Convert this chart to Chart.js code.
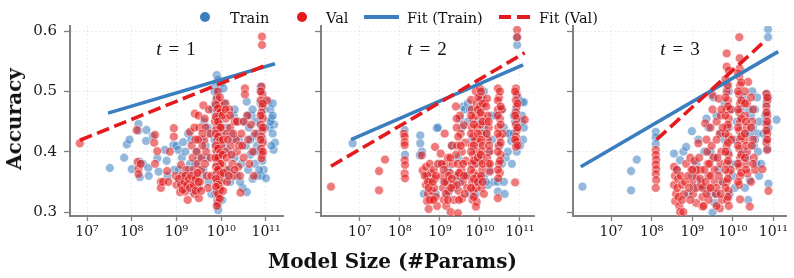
<!DOCTYPE html>
<html><head><meta charset="utf-8">
<script src="https://cdn.jsdelivr.net/npm/chart.js@4.4.1/dist/chart.umd.min.js"></script>
<style>
html,body{margin:0;padding:0;background:#fff;}
#wrap{position:relative;width:794px;height:278px;overflow:hidden;font-family:'DejaVu Serif',serif;color:#111;}
canvas{position:absolute;top:0;}
.lg{position:absolute;top:11px;font-size:14.5px;line-height:1;white-space:nowrap;}
.dot{position:absolute;width:10px;height:10px;border-radius:50%;top:12px;}
.ln{position:absolute;height:4px;top:15px;}
.tl{position:absolute;top:39px;width:100px;text-align:center;font-family:'Liberation Serif',serif;font-size:19px;line-height:1;white-space:nowrap;}
.tl span{margin:0 7px;}
.xl{position:absolute;top:251px;left:392.5px;transform:translateX(-50%);font-weight:bold;font-size:20px;line-height:1;white-space:nowrap;}
.yl{position:absolute;left:13.5px;top:119px;transform:translate(-50%,-50%) rotate(-90deg);font-weight:bold;font-size:20px;line-height:1;white-space:nowrap;}
</style></head>
<body>
<div id="wrap">
<canvas id="c1" width="290" height="250" style="left:0px"></canvas>
<canvas id="c2" width="244" height="250" style="left:296px"></canvas>
<canvas id="c3" width="246" height="250" style="left:548px"></canvas>

<div class="dot" style="left:200px;background:#3a7ebf"></div><div class="lg" style="left:230px">Train</div>
<div class="dot" style="left:297px;background:#e41a1c"></div><div class="lg" style="left:326px">Val</div>
<div class="ln" style="left:364px;width:35px;background:#3a7ebf"></div><div class="lg" style="left:407px">Fit (Train)</div>
<div class="ln" style="left:499px;width:12px;background:#e41a1c"></div><div class="ln" style="left:517px;width:13px;background:#e41a1c"></div><div class="lg" style="left:539px">Fit (Val)</div>

<div class="tl" style="left:126px"><i>t</i><span>=</span>1</div>
<div class="tl" style="left:377px"><i>t</i><span>=</span>2</div>
<div class="tl" style="left:630px"><i>t</i><span>=</span>3</div>

<div class="xl">Model Size (#Params)</div>
<div class="yl">Accuracy</div>
</div>
<script>
// Each point: [log10(#params), accuracy]
const xTickValues = [1e7, 1e8, 1e9, 1e10, 1e11];
const xTickLabels = ['10\u2077', '10\u2078', '10\u2079', '10\u00B9\u2070', '10\u00B9\u00B9'];
const yTickValues = [0.3, 0.4, 0.5, 0.6];

const t1Train = [[7.51,0.373],[7.83,0.390],[7.89,0.412],[7.95,0.420],[8.0,0.371],[8.15,0.446],[8.15,0.435],[8.18,0.383],[8.18,0.358],[8.25,0.380],[8.32,0.418],[8.33,0.436],[8.37,0.373],[8.38,0.360],[8.47,0.426],[8.57,0.389],[8.6,0.367],[8.74,0.403],[8.78,0.385],[8.8,0.360],[8.93,0.411],[8.95,0.370],
[9.0,0.41],[9.04,0.403],[9.08,0.35],[9.15,0.416],[9.18,0.36],[9.22,0.34],[9.26,0.43],[9.3,0.38],[9.35,0.335],[9.4,0.36],[9.45,0.40],[9.5,0.34],[9.55,0.42],[9.6,0.37],[9.62,0.45],[9.68,0.39],[9.72,0.35],[9.75,0.43],[9.78,0.33],[9.8,0.47],
[9.9,0.527],[9.93,0.52],[9.88,0.51],[9.95,0.50],[9.9,0.49],[9.93,0.48],[9.88,0.46],[9.96,0.45],[9.9,0.44],[9.94,0.42],[9.87,0.41],[9.92,0.40],[9.97,0.39],[9.9,0.38],[9.94,0.37],[9.88,0.36],[9.95,0.35],[9.9,0.34],[9.93,0.33],[9.91,0.32],[9.93,0.311],[9.93,0.303],
[10.02,0.515],[10.05,0.505],[10.1,0.48],[10.12,0.44],[10.15,0.40],[10.18,0.37],[10.2,0.35],[10.22,0.43],[10.28,0.46],[10.3,0.39],[10.35,0.36],[10.4,0.42],[10.45,0.38],[10.48,0.34],
[10.52,0.45],[10.55,0.41],[10.57,0.483],[10.57,0.333],[10.6,0.37],[10.62,0.44],[10.65,0.395],[10.68,0.46],[10.7,0.355],[10.72,0.425],[10.75,0.38],[10.78,0.45],[10.8,0.36],[10.8,0.41],
[10.88,0.508],[10.9,0.50],[10.88,0.48],[10.92,0.46],[10.9,0.44],[10.93,0.42],[10.88,0.40],[10.92,0.385],[10.95,0.37],[10.9,0.36],[11.0,0.356],[10.95,0.47],
[11.05,0.483],[11.1,0.47],[11.15,0.48],[11.12,0.455],[11.18,0.445],[11.08,0.44],[11.15,0.43],[11.2,0.415],[11.17,0.403],
[9.05,0.37],[9.12,0.39],[9.2,0.4],[9.28,0.37],[9.33,0.42],[9.42,0.38],[9.5,0.39],[9.58,0.36],[9.65,0.41],[9.7,0.44],[9.85,0.5],[9.86,0.48],[9.85,0.42],[9.86,0.33],[9.98,0.47],[10.0,0.43],[10.0,0.37],[10.02,0.32],[10.08,0.41],[10.12,0.36],[10.25,0.42],[10.3,0.47],[10.38,0.45],[10.42,0.35],[10.6,0.46],[10.65,0.42],[10.7,0.47],[10.75,0.4],[10.82,0.43],[10.85,0.37],[10.98,0.44],[11.1,0.45],[11.15,0.46],[11.12,0.41]];

const t1Val = [[6.84,0.414],[8.11,0.436],[8.13,0.383],[8.15,0.372],[8.15,0.363],[8.2,0.38],[8.5,0.415],[8.52,0.428],[8.52,0.38],[8.57,0.401],[8.65,0.35],[8.65,0.34],[8.7,0.35],[8.79,0.368],[8.82,0.35],[8.85,0.40],[8.94,0.439],[8.94,0.425],[8.98,0.36],[9.0,0.345],
[9.08,0.333],[9.1,0.378],[9.12,0.36],[9.15,0.35],[9.19,0.334],[9.22,0.37],[9.25,0.32],[9.3,0.433],[9.34,0.41],[9.36,0.39],[9.38,0.37],[9.35,0.35],[9.4,0.33],[9.41,0.463],[9.42,0.42],[9.45,0.40],[9.47,0.38],[9.45,0.36],[9.48,0.34],[9.49,0.46],[9.5,0.323],[9.52,0.44],[9.53,0.35],[9.56,0.39],[9.55,0.37],
[9.6,0.477],[9.63,0.455],[9.65,0.44],[9.62,0.42],[9.66,0.40],[9.64,0.38],[9.68,0.36],[9.7,0.34],[9.72,0.47],[9.75,0.43],[9.76,0.39],[9.78,0.36],
[9.9,0.488],[9.95,0.48],[9.9,0.47],[9.96,0.462],[9.91,0.455],[9.95,0.445],[9.89,0.437],[9.96,0.43],[9.91,0.42],[9.95,0.41],[9.89,0.402],[9.96,0.395],[9.92,0.385],[9.95,0.375],[9.9,0.367],[9.96,0.358],[9.91,0.35],[9.95,0.34],[9.9,0.332],[9.94,0.324],[9.92,0.315],[10.0,0.47],[10.01,0.44],[10.0,0.41],[10.02,0.38],[10.0,0.35],[9.86,0.45],[9.86,0.39],
[10.08,0.48],[10.1,0.455],[10.12,0.43],[10.1,0.40],[10.15,0.37],[10.13,0.35],[10.18,0.47],[10.2,0.44],[10.22,0.41],[10.25,0.38],[10.28,0.36],[10.3,0.45],[10.33,0.42],[10.35,0.40],[10.38,0.375],[10.43,0.332],[10.45,0.43],[10.5,0.39],[10.53,0.505],[10.53,0.495],
[10.58,0.46],[10.6,0.42],[10.63,0.38],[10.66,0.445],[10.7,0.40],[10.73,0.36],[10.76,0.43],
[10.9,0.508],[10.92,0.495],[10.88,0.485],[10.92,0.475],[10.9,0.465],[10.93,0.455],[10.88,0.445],[10.92,0.435],[10.9,0.425],[10.93,0.415],[10.89,0.405],[10.92,0.395],[10.9,0.389],[10.91,0.591],[10.91,0.577],[11.02,0.485],
[9.88,0.478],[9.93,0.472],[9.98,0.465],[9.88,0.458],[9.93,0.45],[9.98,0.44],[9.88,0.43],[9.93,0.425],[9.98,0.418],[9.88,0.41],[9.93,0.405],[9.98,0.398],[9.88,0.39],[9.93,0.39],[9.98,0.38],[9.88,0.375],[9.93,0.37],[9.98,0.362],[9.88,0.355],[9.93,0.345],[9.98,0.338],[9.88,0.342],[9.93,0.33],[9.97,0.322],[9.9,0.31],[9.92,0.5],[9.97,0.49],[10.03,0.46],[10.04,0.42],[10.03,0.395],[10.05,0.365],[10.04,0.335],
[9.05,0.355],[9.1,0.345],[9.14,0.337],[9.18,0.35],[9.2,0.36],[9.24,0.345],[9.28,0.355],[9.3,0.34],[9.33,0.36],[9.38,0.345],[9.43,0.355],[9.43,0.335],[9.47,0.365],[9.5,0.35],[9.55,0.335],[9.58,0.41],[9.58,0.43],[9.48,0.42],[9.4,0.44],
[10.1,0.47],[10.12,0.39],[10.15,0.42],[10.17,0.36],[10.2,0.46],[10.23,0.395],[10.27,0.43],[10.3,0.37],[10.35,0.45],[10.4,0.41],[10.42,0.36],[10.47,0.41],[10.5,0.45],
[10.88,0.5],[10.93,0.48],[10.88,0.46],[10.93,0.44],[10.88,0.42],[10.93,0.40]];

const t1FitTrain = [[7.47,0.464],[11.2,0.546]];
const t1FitVal = [[6.84,0.419],[11.05,0.545]];

const t2Train = [[6.82,0.414],[8.12,0.436],[8.13,0.395],[8.51,0.427],[8.51,0.414],[8.55,0.40],[8.5,0.394],[8.92,0.439],[8.95,0.44],[8.8,0.36],[8.9,0.33],[9.0,0.38],[9.1,0.35],[9.2,0.37],[9.3,0.41],[9.35,0.34],[9.45,0.39],[9.5,0.455],[9.58,0.475],[9.55,0.44],[9.62,0.47],[9.7,0.48],[9.65,0.36],[9.75,0.47],[9.8,0.42],[9.85,0.38],[9.9,0.35],[9.95,0.45],[10.0,0.39],[10.05,0.49],[10.1,0.50],[10.1,0.36],[10.15,0.43],[10.2,0.345],[10.22,0.40],[10.25,0.37],[10.3,0.46],[10.35,0.35],[10.45,0.334],[10.45,0.35],[10.5,0.41],[10.55,0.47],[10.6,0.44],[10.62,0.33],[10.65,0.39],[10.72,0.43],[10.74,0.43],[10.78,0.418],[10.85,0.46],[10.88,0.45],[10.92,0.40],[10.9,0.413],[10.95,0.44],[10.93,0.577],[10.93,0.589],[11.06,0.483],[11.1,0.482],[11.05,0.45],[11.08,0.42],[11.0,0.41],
[9.2,0.33],[9.4,0.36],[9.5,0.35],[9.7,0.45],[9.75,0.33],[9.9,0.33],[10.0,0.47],[10.1,0.44],[10.15,0.35],[10.3,0.42],[10.4,0.46],[10.55,0.38],[10.6,0.35],[10.7,0.40],[10.8,0.38],[10.85,0.43],[10.9,0.47],[10.95,0.49],[11.05,0.46],[11.1,0.44],[8.6,0.33],[8.7,0.36]];

const t2Val = [[6.28,0.342],[7.48,0.368],[7.48,0.336],[7.63,0.387],
[8.1,0.43],[8.12,0.425],[8.12,0.416],[8.12,0.411],[8.12,0.386],[8.13,0.378],[8.12,0.364],[8.13,0.356],
[8.55,0.394],[8.57,0.369],[8.88,0.408],
[8.65,0.375],[8.68,0.36],[8.65,0.345],[8.7,0.33],[8.68,0.318],[8.72,0.305],[8.75,0.38],[8.78,0.365],[8.75,0.35],[8.8,0.335],[8.78,0.32],[8.85,0.37],[8.88,0.355],[8.86,0.34],[8.9,0.325],[8.93,0.31],[8.95,0.38],
[9.02,0.397],[9.05,0.36],[9.08,0.34],[9.1,0.32],[9.12,0.43],[9.15,0.38],[9.18,0.35],[9.16,0.31],[9.2,0.39],[9.25,0.365],[9.22,0.335],[9.27,0.30],[9.3,0.41],[9.32,0.38],[9.33,0.345],[9.35,0.32],
[9.4,0.475],[9.42,0.44],[9.43,0.41],[9.45,0.38],[9.44,0.36],[9.47,0.335],[9.45,0.298],[9.5,0.46],[9.52,0.43],[9.55,0.40],[9.54,0.37],[9.57,0.35],[9.55,0.322],[9.6,0.444],[9.63,0.415],[9.65,0.385],[9.67,0.36],[9.68,0.34],
[9.78,0.486],[9.8,0.47],[9.82,0.455],[9.8,0.44],[9.84,0.425],[9.8,0.41],[9.83,0.395],[9.8,0.38],[9.85,0.365],[9.81,0.35],[9.84,0.335],[9.82,0.32],[9.9,0.50],[9.92,0.48],[9.9,0.46],[9.93,0.44],[9.88,0.42],[9.92,0.40],[9.9,0.38],[9.93,0.36],[9.9,0.34],[9.92,0.317],[9.9,0.309],
[10.0,0.505],[10.03,0.49],[10.0,0.475],[10.05,0.46],[10.01,0.445],[10.04,0.43],[10.0,0.415],[10.05,0.40],[10.02,0.385],[10.06,0.37],[10.0,0.355],[10.04,0.34],[10.1,0.33],[10.12,0.48],[10.15,0.45],
[10.18,0.488],[10.2,0.46],[10.22,0.44],[10.2,0.42],[10.24,0.40],[10.21,0.38],[10.25,0.367],
[10.45,0.505],[10.48,0.49],[10.45,0.47],[10.5,0.455],[10.46,0.44],[10.5,0.425],[10.47,0.41],[10.52,0.395],[10.48,0.38],[10.5,0.365],[10.46,0.356],[10.45,0.323],[10.55,0.47],[10.57,0.43],
[10.9,0.505],[10.92,0.495],[10.9,0.485],[10.92,0.475],[10.9,0.465],[10.93,0.455],[10.9,0.445],[10.92,0.435],[10.9,0.425],[10.92,0.417],[10.9,0.408],[10.88,0.349],[10.93,0.602],[10.93,0.59],[11.12,0.453],
[9.78,0.46],[9.85,0.445],[9.78,0.43],[9.85,0.41],[9.78,0.40],[9.85,0.385],[9.78,0.37],[9.85,0.355],[9.78,0.34],[9.85,0.325],[9.95,0.47],[9.95,0.43],[9.95,0.39],[9.95,0.35],[9.96,0.49],
[10.03,0.5],[10.07,0.48],[10.02,0.465],[10.07,0.45],[10.03,0.42],[10.07,0.41],[10.02,0.395],[10.07,0.38],[10.03,0.36],[10.07,0.35],
[10.5,0.5],[10.45,0.485],[10.52,0.475],[10.45,0.46],[10.52,0.445],[10.45,0.43],[10.52,0.415],[10.45,0.40],[10.5,0.385],[10.45,0.37],
[9.42,0.455],[9.46,0.425],[9.4,0.395],[9.48,0.365],[9.42,0.345],[9.48,0.32],[9.52,0.41],[9.58,0.38],[9.6,0.36],[9.62,0.33],
[9.05,0.38],[9.1,0.37],[9.12,0.35],[9.15,0.33],[9.2,0.32],[9.22,0.36],[9.28,0.34],[9.3,0.355],[9.26,0.39],
[8.62,0.36],[8.7,0.35],[8.72,0.34],[8.74,0.32],[8.82,0.35],[8.84,0.32],[8.9,0.36],
[10.16,0.475],[10.22,0.45],[10.17,0.43],[10.23,0.41],[10.18,0.39],[10.25,0.38],
[10.88,0.5],[10.94,0.48],[10.88,0.46],[10.94,0.44],[10.88,0.42],[10.94,0.41]];

const t2FitTrain = [[6.78,0.420],[11.08,0.544]];
const t2FitVal = [[6.28,0.376],[11.12,0.564]];

const t3Train = [[6.29,0.342],[7.49,0.368],[7.49,0.336],[7.63,0.387],[8.1,0.433],[8.1,0.424],[8.1,0.413],[8.55,0.397],[8.7,0.386],[8.62,0.37],[8.78,0.40],[8.85,0.408],[8.99,0.434],[9.0,0.36],[9.1,0.38],[9.15,0.42],[9.2,0.35],[9.3,0.40],[9.35,0.455],[9.4,0.44],[9.45,0.33],[9.5,0.299],[9.52,0.49],[9.55,0.39],[9.6,0.46],[9.65,0.37],[9.7,0.43],[9.75,0.35],[9.8,0.48],[9.85,0.51],[9.88,0.40],[9.9,0.44],[9.92,0.33],[9.95,0.47],[10.0,0.36],[10.05,0.42],[10.1,0.38],[10.2,0.47],[10.25,0.49],[10.3,0.43],[10.35,0.39],[10.38,0.32],[10.42,0.353],[10.45,0.46],[10.48,0.50],[10.5,0.44],[10.52,0.41],[10.55,0.47],[10.58,0.38],[10.6,0.43],[10.65,0.36],[10.83,0.496],[10.83,0.48],[10.85,0.465],[10.83,0.45],[10.85,0.435],[10.83,0.42],[10.85,0.405],[10.88,0.347],[10.87,0.603],[10.87,0.59],[11.08,0.453],
[9.3,0.34],[9.45,0.40],[9.6,0.33],[9.8,0.42],[9.9,0.5],[9.95,0.38],[10.05,0.34],[10.1,0.45],[10.25,0.40],[10.3,0.34],[10.4,0.47],[10.42,0.43],[10.55,0.42],[10.6,0.49],[10.62,0.4],[10.65,0.45],[10.7,0.38],[10.75,0.43],[10.8,0.46],[10.88,0.44],[10.88,0.49],[8.9,0.33],[9.05,0.34],[9.55,0.315]];

const t3Val = [[8.1,0.403],[8.1,0.395],[8.11,0.387],[8.1,0.379],[8.11,0.371],[8.1,0.363],[8.11,0.353],[8.1,0.34],
[8.55,0.375],[8.57,0.36],[8.55,0.345],[8.6,0.33],[8.58,0.318],[8.62,0.37],[8.65,0.355],[8.63,0.34],[8.66,0.325],[8.68,0.31],[8.7,0.30],[8.72,0.36],[8.75,0.345],[8.78,0.3],[8.8,0.33],[8.85,0.38],
[8.95,0.39],[8.98,0.37],[9.0,0.35],[9.02,0.33],[9.05,0.385],[9.08,0.36],[9.1,0.34],[9.1,0.315],[9.15,0.414],[9.17,0.39],[9.2,0.37],[9.22,0.345],[9.25,0.325],[9.25,0.309],
[9.32,0.447],[9.35,0.42],[9.37,0.40],[9.38,0.38],[9.4,0.36],[9.42,0.34],[9.4,0.32],[9.45,0.44],[9.48,0.41],[9.5,0.494],[9.5,0.47],[9.52,0.39],[9.55,0.37],[9.55,0.35],[9.58,0.33],[9.6,0.45],
[9.65,0.488],[9.7,0.46],[9.68,0.43],[9.72,0.40],[9.7,0.38],[9.75,0.35],[9.73,0.32],[9.68,0.306],
[9.85,0.563],[9.85,0.541],[9.9,0.535],[9.85,0.50],[9.88,0.485],[9.85,0.47],[9.9,0.455],[9.86,0.44],[9.9,0.425],[9.85,0.41],[9.9,0.395],[9.86,0.38],[9.9,0.365],[9.85,0.35],[9.9,0.335],[9.86,0.32],[9.9,0.31],[9.95,0.47],[9.97,0.42],[9.95,0.37],
[10.16,0.59],[10.17,0.555],[10.17,0.538],[10.16,0.525],[10.18,0.51],[10.16,0.495],[10.18,0.48],[10.16,0.465],[10.18,0.45],[10.16,0.435],[10.18,0.42],[10.16,0.405],[10.18,0.39],[10.16,0.375],[10.18,0.36],[10.16,0.345],[10.18,0.321],
[10.38,0.516],[10.3,0.50],[10.35,0.48],[10.3,0.46],[10.34,0.44],[10.3,0.42],[10.35,0.40],[10.32,0.38],[10.36,0.364],[10.42,0.309],[10.45,0.49],[10.48,0.45],[10.5,0.42],[10.52,0.39],[10.55,0.37],[10.5,0.47],
[10.73,0.371],[10.83,0.496],[10.85,0.485],[10.83,0.475],[10.85,0.46],[10.83,0.445],[10.85,0.43],[10.83,0.415],[10.85,0.403],[10.88,0.335],
[9.82,0.52],[9.88,0.51],[9.82,0.49],[9.88,0.475],[9.82,0.46],[9.88,0.445],[9.82,0.43],[9.88,0.415],[9.82,0.40],[9.88,0.385],[9.82,0.37],[9.88,0.355],[9.82,0.34],[9.88,0.325],
[10.13,0.53],[10.21,0.515],[10.13,0.5],[10.21,0.485],[10.13,0.47],[10.21,0.455],[10.13,0.44],[10.21,0.425],[10.13,0.41],[10.21,0.395],[10.13,0.38],[10.21,0.365],[10.13,0.35],
[9.6,0.42],[9.62,0.39],[9.65,0.36],[9.6,0.34],[9.7,0.33],[9.75,0.44],[9.72,0.47],[9.6,0.31],
[9.12,0.37],[9.2,0.355],[9.25,0.34],[9.3,0.37],[9.33,0.35],[9.35,0.33],[9.28,0.31],[9.42,0.38],[9.45,0.36],[9.45,0.34],
[8.75,0.32],[8.82,0.35],[8.9,0.36],[8.92,0.34],[8.95,0.32],[9.0,0.37],
[10.3,0.48],[10.33,0.45],[10.3,0.43],[10.33,0.41],[10.3,0.39],[10.33,0.37],[10.45,0.44],[10.47,0.41],[10.5,0.38],[10.45,0.35],
[10.85,0.49],[10.83,0.465],[10.85,0.45],[10.83,0.435],[10.85,0.42]];

const t3FitTrain = [[6.25,0.375],[11.12,0.566]];
const t3FitVal = [[8.12,0.420],[10.75,0.581]];

const BLUE = '#3a7ebf', RED = '#e41a1c';
const SPINE = '#808080';
const FONT = "'DejaVu Serif', serif";

function toPts(a){ return a.map(p => ({x: Math.pow(10, p[0]), y: p[1]})); }

function panel(id, train, val, fitT, fitV, xr, yW, padR, showY){
  new Chart(document.getElementById(id), {
    type: 'scatter',
    data: { datasets: [
      {label:'Fit (Val)', data: toPts(fitV), showLine:true, fill:false, borderColor:RED, borderWidth:3.6, borderDash:[13,5.5], borderCapStyle:'butt', pointRadius:0, order:0},
      {label:'Fit (Train)', data: toPts(fitT), showLine:true, fill:false, borderColor:BLUE, borderWidth:3.6, borderCapStyle:'butt', pointRadius:0, order:1},
      {label:'Val', data: toPts(val), pointRadius:4.4, pointBackgroundColor:'rgba(228,26,28,0.58)', pointBorderColor:'rgba(255,255,255,0.7)', pointBorderWidth:0.7, order:2},
      {label:'Train', data: toPts(train), pointRadius:4.4, pointBackgroundColor:'rgba(58,126,191,0.55)', pointBorderColor:'rgba(255,255,255,0.7)', pointBorderWidth:0.7, order:3}
    ]},
    options: {
      responsive:false, animation:false, devicePixelRatio:1,
      layout:{padding:{top:26, right:padR, bottom:0, left:0}},
      plugins:{legend:{display:false}, tooltip:{enabled:false}},
      scales:{
        x:{type:'logarithmic', min:Math.pow(10,xr[0]), max:Math.pow(10,xr[1]),
          afterBuildTicks: s => { s.ticks = xTickValues.map(v => ({value:v})); },
          afterFit: s => { s.height = 34; },
          ticks:{autoSkip:false, maxRotation:0, minRotation:0, padding:3, color:'#1a1a1a', font:{family:FONT, size:14}, callback:(v,i) => xTickLabels[i]},
          grid:{color:'rgba(0,0,0,0.13)', lineWidth:0.8, drawTicks:true, tickLength:5, tickColor:SPINE, tickWidth:1.3},
          border:{display:true, color:SPINE, width:2, dash:[1.5,2.5]}
        },
        y:{min:0.2934, max:0.6085,
          afterBuildTicks: s => { s.ticks = yTickValues.map(v => ({value:v})); },
          afterFit: s => { s.width = yW; },
          ticks:{display:showY, padding:7, color:'#1a1a1a', font:{family:FONT, size:15}, callback:v => v.toFixed(1)},
          grid:{color:'rgba(0,0,0,0.13)', lineWidth:0.8, drawTicks:true, tickLength:6, tickColor:SPINE, tickWidth:1.3},
          border:{display:true, color:SPINE, width:2, dash:[1.5,2.5]}
        }
      }
    }
  });
}

panel('c1', t1Train, t1Val, t1FitTrain, t1FitVal, [6.62, 11.38], 70, 7, true);
panel('c2', t2Train, t2Val, t2FitTrain, t2FitVal, [6.03, 11.375], 25, 5, false);
panel('c3', t3Train, t3Val, t3FitTrain, t3FitVal, [6.057, 11.313], 25, 8, false);
</script>
</body></html>
